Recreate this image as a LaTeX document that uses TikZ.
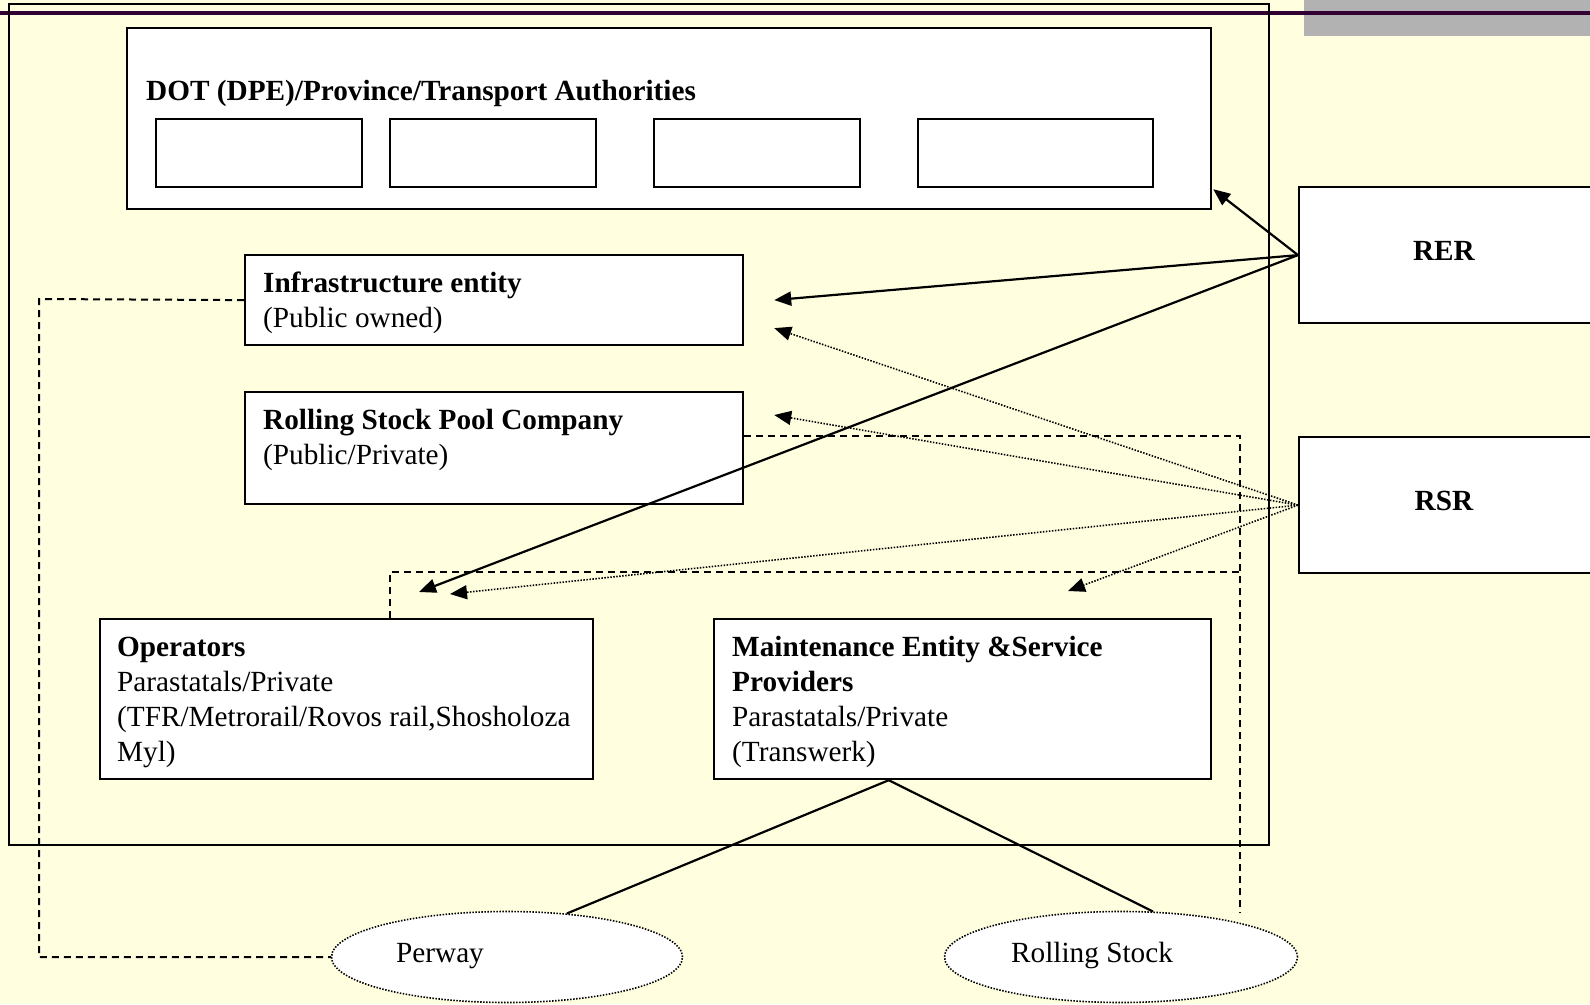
\documentclass[tikz,border=0pt]{standalone}
\usepackage{fontspec}
\setmainfont{Liberation Serif}
\usetikzlibrary{shapes.geometric,arrows.meta,calc}
\definecolor{bgyellow}{RGB}{255,255,224}
\definecolor{barpurple}{RGB}{51,0,51}
\definecolor{bargray}{RGB}{178,178,178}
\begin{document}
\begin{tikzpicture}[x=1pt,y=-1pt,
  box/.style={draw, fill=white, line width=2.2pt, inner sep=0pt, anchor=north west},
  txt/.style={anchor=base west, align=left, inner sep=0pt, font=\fontsize{29.25}{35}\selectfont},
  ctxt/.style={anchor=base, inner sep=0pt, font=\fontsize{29.25}{35}\selectfont},
  dashline/.style={line width=2pt, dash pattern=on 7pt off 5pt},
  solidarrow/.style={line width=2.2pt, -{Triangle[length=17pt,width=14pt]}},
  dotarrow/.style={line width=1.6pt, dash pattern=on 1.5pt off 1.5pt, -{Triangle[length=17pt,width=14pt]}},
  oval/.style={ellipse, draw, fill=white, line width=1.6pt, dash pattern=on 1.5pt off 1.5pt, inner sep=0pt},
  link/.style={line width=2.2pt}]
\useasboundingbox (0,0) rectangle (1590,1004);
\clip (0,0) rectangle (1590,1004);
\fill[bgyellow] (0,0) rectangle (1590,1004);
\fill[bargray] (1304,0) rectangle (1590,36);
\draw[barpurple, line width=3.5pt] (0,13) -- (1590,13);
\draw[line width=2.2pt] (9,4) rectangle (1269,845);

% DOT box
\node[box, minimum width=1084pt, minimum height=181pt] (dot) at (126,27) {};
\node[txt] (dotT) at (146,100) {\textbf{DOT (DPE)/Province/Transport Authorities}};
\node[box, minimum width=206pt, minimum height=68pt] (sb1) at (155,118) {};
\node[box, minimum width=206pt, minimum height=68pt] (sb2) at (389,118) {};
\node[box, minimum width=206pt, minimum height=68pt] (sb3) at (653,118) {};
\node[box, minimum width=235pt, minimum height=68pt] (sb4) at (917,118) {};

% entity boxes (text nodes anchored at the baseline of their last line)
\node[box, minimum width=498pt, minimum height=90pt] (infra) at (244,254) {};
\node[txt] (infraT) at (263,327) {\textbf{Infrastructure entity}\\(Public owned)};
\node[box, minimum width=498pt, minimum height=112pt] (rspc) at (244,391) {};
\node[txt] (rspcT) at (263,464) {\textbf{Rolling Stock Pool Company}\\(Public/Private)};
\node[box, minimum width=493pt, minimum height=160pt] (ops) at (99,618) {};
\node[txt] (opsT) at (117,761) {\textbf{Operators}\\Parastatals/Private\\(TFR/Metrorail/Rovos rail,Shosholoza\\Myl)};
\node[box, minimum width=497pt, minimum height=160pt] (maint) at (713,618) {};
\node[txt] (maintT) at (732,761) {\textbf{Maintenance Entity \&Service}\\\textbf{Providers}\\Parastatals/Private\\(Transwerk)};

% regulators
\node[box, minimum width=320pt, minimum height=136pt] (rer) at (1298,186) {};
\node[ctxt] (rerT) at (1444,260) {\textbf{RER}};
\node[box, minimum width=320pt, minimum height=136pt] (rsr) at (1298,436) {};
\node[ctxt] (rsrT) at (1444,510) {\textbf{RSR}};

% dashed links (drawn before ellipses)
\coordinate (rsend) at (1240,913);
\draw[dashline] (infra.west) -- (39,299) -- (39,957) -- (331,957);
\draw[dashline] ($(rspc.north east)+(0,45)$) -- (1240,436) -- (rsend);
\draw[dashline] ($(ops.north west)+(291,0)$) -- (390,572) -- (1240,572);

% ellipses
\node[oval, minimum width=351pt, minimum height=91pt] (perway) at (507,957) {};
\node[ctxt] (perwayT) at (440,962) {Perway};
\node[oval, minimum width=353pt, minimum height=91pt] (rstock) at (1121,957) {};
\node[ctxt] (rstockT) at (1092,962) {Rolling Stock};

% maintenance to ellipses
\coordinate (mfoot) at ($(maint.south west)!0.352!(maint.south east)$);
\draw[link] (mfoot) -- (perway.36);
\draw[link] (mfoot) -- (rstock.55);

% RER arrows
\draw[solidarrow] (rer.west) -- ($(dot.south east)+(1,-21)$);
\draw[solidarrow] (rer.west) -- ($(infra.east)+(30,0)$);
\draw[solidarrow] (rer.west) -- ($(ops.north west)+(320,-26)$);

% RSR arrows
\draw[dotarrow] (rsr.west) -- ($(infra.east)+(30,28)$);
\draw[dotarrow] (rsr.west) -- ($(rspc.north east)+(30,24)$);
\draw[dotarrow] (rsr.west) -- ($(ops.north west)+(351,-24)$);
\draw[dotarrow] (rsr.west) -- ($(maint.north west)+(355,-27)$);
\end{tikzpicture}
\end{document}
